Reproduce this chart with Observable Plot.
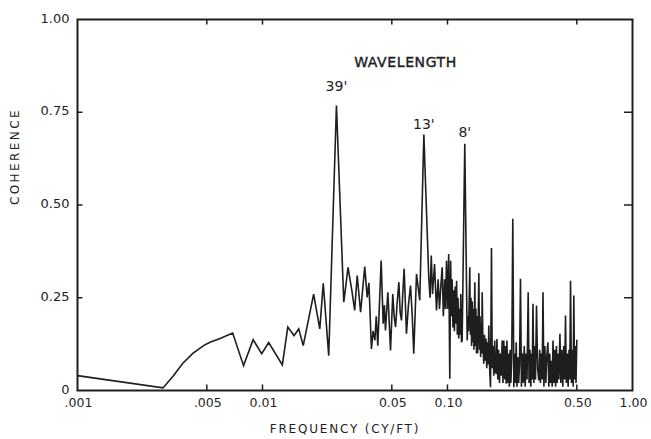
<!DOCTYPE html>
<html><head><meta charset="utf-8">
<script src="https://cdn.jsdelivr.net/npm/d3@7"></script>
<script src="https://cdn.jsdelivr.net/npm/@observablehq/plot@0.6"></script>
<style>
html,body{margin:0;padding:0;background:#fff;}
</style></head><body><div id="chart"></div>
<script>
// [frequency (cy/ft), coherence]
const spectrumLow = [[0.001,0.040],[0.0029,0.007],[0.0033,0.040],[0.0037,0.073],[0.0042,0.100],[0.0048,0.121],[0.0052,0.130],[0.0059,0.140],[0.0069,0.155],[0.0079,0.067],[0.0089,0.137],[0.0099,0.099],[0.0108,0.129],[0.0128,0.069],[0.0137,0.171],[0.0148,0.148],[0.0157,0.166],[0.0166,0.121],[0.0189,0.260],[0.0204,0.166],[0.0213,0.289],[0.0228,0.094],[0.0251,0.768],[0.0275,0.238],[0.0290,0.332]];
const spectrumMid = [[0.0305,0.265],[0.0315,0.216],[0.0325,0.310],[0.0339,0.211],[0.0357,0.334],[0.0368,0.251],[0.0376,0.290],[0.0388,0.112],[0.0396,0.160],[0.0405,0.135],[0.0412,0.200],[0.0420,0.121],[0.0438,0.350],[0.0449,0.180],[0.0456,0.230],[0.0462,0.162],[0.0476,0.265],[0.0492,0.108],[0.0506,0.260],[0.0515,0.200],[0.0524,0.171],[0.0535,0.240],[0.0546,0.292],[0.0555,0.210],[0.0564,0.189],[0.0573,0.260],[0.0583,0.328],[0.0600,0.153],[0.0615,0.230],[0.0631,0.283],[0.0645,0.200],[0.0657,0.099],[0.0680,0.314],[0.0708,0.243],[0.0745,0.690],[0.0792,0.305],[0.0805,0.250],[0.0817,0.364],[0.0830,0.260],[0.0851,0.341],[0.0872,0.216],[0.0890,0.300],[0.0905,0.220],[0.0920,0.280],[0.0936,0.332],[0.0950,0.200],[0.0965,0.300],[0.0975,0.220],[0.0988,0.350]];
const spectrumHigh = [[0.1000,0.22],[0.1015,0.368],[0.1029,0.032],[0.1040,0.350],[0.1050,0.20],[0.1060,0.30],[0.1070,0.17],[0.1080,0.27],[0.1090,0.16],[0.1100,0.28],[0.1110,0.18],[0.1120,0.296],[0.1130,0.15],[0.1140,0.25],[0.1150,0.14],[0.1160,0.22],[0.1170,0.15],[0.1180,0.26],[0.1190,0.13],[0.1200,0.135],[0.1240,0.665],[0.1278,0.135],[0.1290,0.20],[0.1300,0.16],[0.1320,0.332],[0.1330,0.15],[0.1340,0.25],[0.1350,0.12],[0.1360,0.24],[0.1370,0.13],[0.1380,0.22],[0.1390,0.11],[0.1405,0.292],[0.1415,0.12],[0.1425,0.22],[0.1435,0.10],[0.1445,0.20],[0.1455,0.10],[0.1465,0.18],[0.1477,0.316],[0.1490,0.11],[0.1500,0.20],[0.1510,0.09],[0.1520,0.18],[0.1530,0.10],[0.1540,0.265],[0.1555,0.12],[0.1571,0.072],[0.1585,0.15],[0.1600,0.08],[0.1615,0.14],[0.1630,0.06],[0.1645,0.13],[0.1660,0.07],[0.1672,0.175],[0.1690,0.06],[0.1708,0.009],[0.1729,0.384],[0.1745,0.06],[0.1760,0.12],[0.1780,0.04],[0.1800,0.135],[0.1815,0.05],[0.1833,0.045],[0.1850,0.139],[0.1870,0.03],[0.1890,0.11],[0.1910,0.02],[0.1930,0.10],[0.1950,0.04],[0.1975,0.135],[0.1995,0.02],[0.2015,0.135],[0.2040,0.03],[0.2060,0.12],[0.2076,0.018],[0.2095,0.135],[0.2120,0.02],[0.2140,0.10],[0.2160,0.01],[0.2180,0.11],[0.2200,0.02],[0.2225,0.09],[0.2254,0.463],[0.2284,0.009],[0.2310,0.10],[0.2330,0.02],[0.2351,0.130],[0.2375,0.01],[0.2400,0.09],[0.2425,0.02],[0.2450,0.07],[0.2481,0.301],[0.2510,0.01],[0.2540,0.10],[0.2570,0.02],[0.2600,0.12],[0.2630,0.01],[0.2660,0.10],[0.2690,0.03],[0.2730,0.265],[0.2760,0.02],[0.2790,0.11],[0.2820,0.01],[0.2850,0.10],[0.2870,0.03],[0.2897,0.234],[0.2930,0.02],[0.2960,0.12],[0.2990,0.03],[0.3028,0.229],[0.3070,0.06],[0.3116,0.027],[0.3150,0.11],[0.3180,0.02],[0.3220,0.10],[0.3250,0.03],[0.3282,0.265],[0.3320,0.01],[0.3360,0.12],[0.3400,0.02],[0.3440,0.09],[0.3488,0.130],[0.3530,0.01],[0.3570,0.10],[0.3610,0.02],[0.3650,0.08],[0.3680,0.01],[0.3719,0.135],[0.3760,0.02],[0.3800,0.11],[0.3840,0.01],[0.3880,0.12],[0.3920,0.02],[0.3960,0.10],[0.4000,0.03],[0.4052,0.153],[0.4100,0.02],[0.4150,0.11],[0.4200,0.01],[0.4250,0.12],[0.4300,0.03],[0.4345,0.202],[0.4390,0.02],[0.4440,0.10],[0.4490,0.01],[0.4540,0.11],[0.4580,0.03],[0.4624,0.296],[0.4680,0.02],[0.4740,0.11],[0.4780,0.01],[0.4817,0.256],[0.4860,0.03],[0.4900,0.12],[0.4950,0.02],[0.5000,0.135]];

const xTickValues = [0.001, 0.005, 0.01, 0.05, 0.1, 0.5, 1];
const xTickLabels = [".001", ".005", "0.01", "0.05", "0.10", "0.50", "1.00"];
const xInnerTicks = [0.005, 0.01, 0.05, 0.1, 0.5];
const yTickValues = [0, 0.25, 0.5, 0.75, 1];
const yTickLabels = ["0", "0.25", "0.50", "0.75", "1.00"];
const yInnerTicks = [0.25, 0.5, 0.75];
const peakLabels = ["39'", "13'", "8'"];
const peakFrequency = [0.0251, 0.0745, 0.124];
const peakLabelLevel = [0.819, 0.717, 0.695];
const headerText = ["WAVELENGTH"];
const headerFrequency = [0.0593];
const headerLevel = [0.884];
const xTitle = "FREQUENCY (CY/FT)";
const yTitle = "COHERENCE";

const spectrum = [...spectrumLow, ...spectrumMid, ...spectrumHigh].map(([f, c]) => ({f, c}));
const ink = "#1e1e1e";

const chart = Plot.plot({
  width: 651,
  height: 439,
  marginLeft: 77,
  marginRight: 19,
  marginTop: 19,
  marginBottom: 49,
  style: {fontFamily: "DejaVu Sans", fontSize: "13px", color: ink, background: "#fff"},
  x: {type: "log", domain: [0.001, 1], axis: null},
  y: {domain: [0, 1], axis: null},
  marks: [
    Plot.line(spectrum, {x: "f", y: "c", stroke: ink, strokeWidth: 1.6, strokeLinejoin: "miter", strokeMiterlimit: 4}),
    Plot.frame({stroke: ink, strokeWidth: 2}),
    // inward ticks
    Plot.ruleX(xInnerTicks, {x: d => d, y1: 0, y2: 0.015, stroke: ink, strokeWidth: 1.5}),
    Plot.ruleX(xInnerTicks, {x: d => d, y1: 1, y2: 0.985, stroke: ink, strokeWidth: 1.5}),
    Plot.ruleY(yInnerTicks, {y: d => d, x1: 0.001, x2: 0.00107, stroke: ink, strokeWidth: 1.5}),
    Plot.ruleY(yInnerTicks, {y: d => d, x1: 1, x2: 0.905, stroke: ink, strokeWidth: 1.5}),
    // tick labels
    Plot.text(xTickValues, {x: d => d, text: (d, i) => xTickLabels[i], frameAnchor: "bottom", dy: 16, dx: 1, fill: ink, fontSize: 12.5}),
    Plot.text(yTickValues, {y: d => d, text: (d, i) => yTickLabels[i], frameAnchor: "left", dx: -8, dy: -1, textAnchor: "end", fill: ink}),
    // axis titles
    Plot.text([xTitle], {frameAnchor: "bottom", dy: 42, dx: -10, fill: ink, fontSize: 12}),
    Plot.text([yTitle], {frameAnchor: "left", dx: -62, rotate: -90, fill: ink, fontSize: 12}),
    // annotations
    Plot.text(headerText, {x: (d, i) => headerFrequency[i], y: (d, i) => headerLevel[i], text: d => d, fill: ink, fontSize: 14}),
    Plot.text(peakLabels, {x: (d, i) => peakFrequency[i], y: (d, i) => peakLabelLevel[i], text: d => d, fill: ink, fontSize: 14})
  ]
});

d3.select(chart).selectAll("text").each(function() {
  const t = this.textContent;
  if (t === xTitle) d3.select(this).attr("letter-spacing", "1.8px");
  if (t === yTitle) d3.select(this).attr("letter-spacing", "2.4px");
  if (t === headerText[0]) d3.select(this).attr("letter-spacing", "0.6px").attr("stroke", ink).attr("stroke-width", 0.4);
});

document.getElementById("chart").appendChild(chart);
</script>
</body></html>
